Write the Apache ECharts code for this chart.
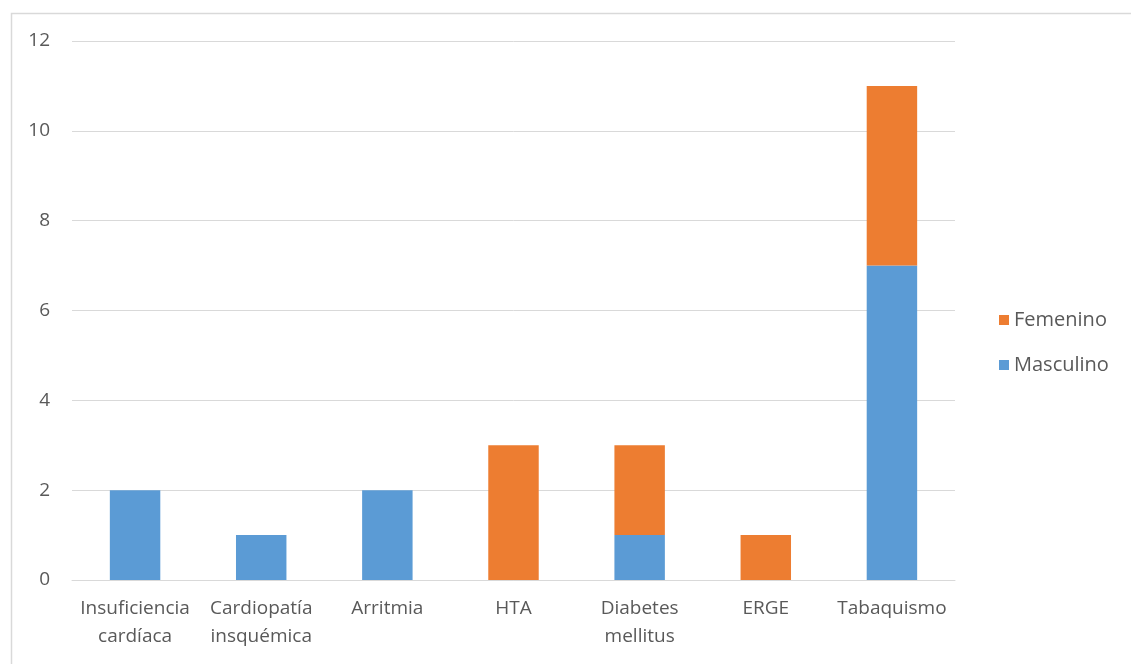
<!DOCTYPE html>
<html>
<head>
<meta charset="utf-8">
<script src="https://cdn.jsdelivr.net/npm/echarts@6/dist/echarts.min.js"></script>
<style>
html, body { margin: 0; padding: 0; background: #fff; }
#chart { width: 1131px; height: 664px; }
</style>
</head>
<body>
<div id="chart"></div>
<script>
// categorias y valores
var categorias = ['Insuficiencia cardíaca', 'Cardiopatía insquémica', 'Arritmia', 'HTA', 'Diabetes mellitus', 'ERGE', 'Tabaquismo'];
var masculino = [2, 1, 2, 0, 1, 0, 7];
var femenino = [0, 0, 0, 3, 2, 1, 4];

var myChart = echarts.init(document.getElementById('chart'));
var fuente = '"Open Sans", "DejaVu Sans", sans-serif';

var option = {
    animation: false,
    backgroundColor: '#fff',
    textStyle: { fontFamily: fuente },
    graphic: [{
        type: 'rect',
        left: 9, top: 11,
        shape: { width: 1130, height: 700 },
        style: { fill: 'none', stroke: '#d9d9d9', lineWidth: 1.5 },
        silent: true
    }],
    grid: {
        left: 72,
        right: 176,
        top: 41,
        bottom: 84
    },
    legend: {
        orient: 'vertical',
        left: 994,
        top: 305,
        itemWidth: 10,
        itemHeight: 10,
        itemGap: 25,
        itemWidth: 10,
        icon: 'rect',
        data: ['Femenino', 'Masculino'],
        textStyle: { color: '#595959', fontSize: 20, fontFamily: fuente }
    },
    xAxis: [{
        type: 'category',
        data: categorias,
        axisLine: { lineStyle: { color: '#d9d9d9', width: 1 } },
        axisTick: { show: false },
        axisLabel: {
            color: '#595959',
            fontSize: 19,
            lineHeight: 28,
            margin: 15,
            interval: 0,
            formatter: function (v) { return v.replace(' ', '\n'); }
        }
    }],
    yAxis: [{
        type: 'value',
        min: 0,
        max: 12,
        interval: 2,
        axisLine: { show: false },
        axisTick: { show: false },
        splitLine: { lineStyle: { color: '#d9d9d9', width: 1 } },
        axisLabel: { color: '#595959', fontSize: 19, margin: 22 }
    }],
    series: [{
        name: 'Masculino',
        type: 'bar',
        stack: 'total',
        barWidth: '40%',
        itemStyle: { color: '#5b9bd5' },
        data: masculino
    }, {
        name: 'Femenino',
        type: 'bar',
        stack: 'total',
        barWidth: '40%',
        itemStyle: { color: '#ed7d31' },
        data: femenino
    }]
};
myChart.setOption(option);
</script>
</body>
</html>
